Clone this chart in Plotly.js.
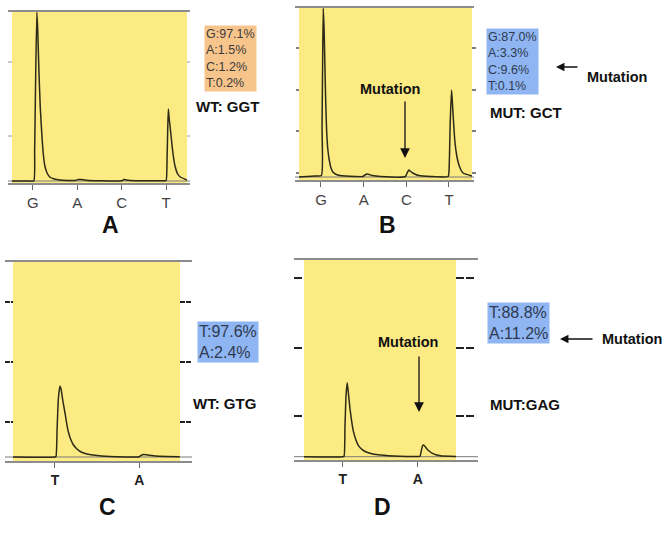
<!DOCTYPE html>
<html>
<head>
<meta charset="utf-8">
<script src="https://cdn.plot.ly/plotly-3.0.1.min.js"></script>
<style>html,body{margin:0;padding:0;background:#fff;}#chart{width:664px;height:533px;}</style>
</head>
<body>
<div id="chart"></div>
<script>
// ---------- DATA ----------
// Dispensation orders (x tick labels)
var basesA = ['G', 'A', 'C', 'T'];
var basesB = ['G', 'A', 'C', 'T'];
var basesC = ['T', 'A'];
var basesD = ['T', 'A'];

// Allele percentages shown in the boxes
var pctLabelsA = ['G', 'A', 'C', 'T'];
var pctA = [97.1, 1.5, 1.2, 0.2];
var pctLabelsB = ['G', 'A', 'C', 'T'];
var pctB = [87.0, 3.3, 9.6, 0.1];
var pctLabelsC = ['T', 'A'];
var pctC = [97.6, 2.4];
var pctLabelsD = ['T', 'A'];
var pctD = [88.8, 11.2];

// Genotype labels
var genoA = 'WT: GGT';
var genoB = 'MUT: GCT';
var genoC = 'WT: GTG';
var genoD = 'MUT:GAG';

// Pyrogram traces (x = dispensation position, y = light signal, arbitrary units)
var traceAx = [0.53, 0.9, 1.02, 1.04, 1.06, 1.09, 1.11, 1.135, 1.165, 1.2, 1.235, 1.27, 1.32, 1.38, 1.48, 1.61, 1.95, 2.02, 2.08, 2.2, 2.5, 3.0, 3.05, 3.15, 3.4, 3.95, 4.0, 4.02, 4.035, 4.05, 4.07, 4.1, 4.13, 4.165, 4.2, 4.26, 4.32, 4.47];
var traceAy = [0, 0, 0, 30, 95, 169, 150, 112, 75, 48, 27, 15, 8, 4, 2, 1, 0.5, 1.5, 1.5, 0.8, 0.3, 0.3, 1.5, 0.8, 0.3, 0.3, 0.5, 20, 50, 72, 62, 50, 37, 24, 15, 7, 4, 1];

var traceBx = [0.485, 0.86, 1.01, 1.025, 1.04, 1.054, 1.075, 1.094, 1.113, 1.133, 1.16, 1.194, 1.235, 1.28, 1.36, 1.445, 1.8, 1.98, 2.03, 2.085, 2.2, 2.4, 2.98, 3.02, 3.06, 3.1, 3.15, 3.22, 3.29, 3.57, 3.98, 4.0, 4.03, 4.06, 4.08, 4.1, 4.14, 4.18, 4.22, 4.27, 4.33, 4.54];
var traceBy = [0, 1, 1.5, 50, 120, 169, 145, 108, 72, 46, 28, 17, 9, 5, 2.5, 1.5, 0.5, 0.5, 2, 3, 1.5, 0.5, 0.5, 4, 7, 5.5, 4, 2.5, 1.5, 0.5, 0.5, 5, 55, 87, 75, 60, 35, 22, 14, 8, 4, 1];

var traceCx = [0.50, 1.0, 1.012, 1.025, 1.04, 1.059, 1.072, 1.09, 1.119, 1.14, 1.156, 1.185, 1.216, 1.26, 1.31, 1.38, 1.45, 1.65, 2.0, 2.02, 2.05, 2.1, 2.2, 2.48];
var traceCy = [0, 0, 0.5, 28, 58, 71, 68, 58, 44, 33, 26, 18, 12.5, 8, 5, 3, 2, 0.5, 0.3, 1.5, 2.5, 2, 1, 0.3];

var traceDx = [0.484, 1.0, 1.018, 1.03, 1.045, 1.06, 1.075, 1.097, 1.12, 1.14, 1.175, 1.21, 1.26, 1.32, 1.4, 1.5, 1.76, 2.0, 2.03, 2.045, 2.06, 2.075, 2.095, 2.12, 2.155, 2.19, 2.24, 2.3, 2.51];
var traceDy = [0, 0, 0.5, 30, 62, 74, 64, 48, 35, 26, 17, 11, 7, 4.5, 2.8, 1.7, 0.5, 0.3, 0.5, 5, 10, 11.7, 10.5, 8, 5.5, 3.5, 2, 1, 0.3];

// Y tick positions (signal units)
var yTicksA = [45, 119];
var yTicksB = [4, 46, 87, 129];
var yTicksC = [35, 95, 155];
var yTicksD = [40.7, 108.7, 178.7];

// ---------- LAYOUT ----------
var W = 664, H = 533;
var YELLOW = '#FCEB82';
var GRAY = '#8c8c8c';
var FONT = 'Liberation Sans, Arial, Helvetica, sans-serif';
function px(x) { return x / W; }
function py(y) { return 1 - y / H; }

var panels = [
  {id: '', xs: traceAx, ys: traceAy, bases: basesA, xr: [0.53, 4.47], yr: [-3, 170],
   dom: [12, 187, 11, 184], ext: [4, 3], ticks: yTicksA, tl: [4, 3], tcol: '#9a9a9a', tw: 1, dash: 'solid',
   tickfont: {size: 15, color: '#444'}},
  {id: '2', xs: traceBx, ys: traceBy, bases: basesB, xr: [0.485, 4.54], yr: [-4, 170],
   dom: [299, 472, 7, 181], ext: [4, 2], ticks: yTicksB, tl: [3, 4], tcol: '#555', tw: 1.5, dash: 'solid',
   tickfont: {size: 15, color: '#444'}},
  {id: '3', xs: traceCx, ys: traceCy, bases: basesC, xr: [0.502, 2.483], yr: [-5, 196],
   dom: [13, 180, 261, 462], ext: [8, 12], ticks: yTicksC, tl: [8, 11], tcol: '#222', tw: 2, dash: '5px,1px',
   tickfont: {size: 14, color: '#222', weight: 'bold'}},
  {id: '4', xs: traceDx, ys: traceDy, bases: basesD, xr: [0.484, 2.51], yr: [-4.3, 197.7],
   dom: [304, 456, 259, 461], ext: [10, 22], ticks: yTicksD, tl: [10, 20], tcol: '#222', tw: 2, dash: '8px,2px',
   tickfont: {size: 14, color: '#222', weight: 'bold'}}
];

var data = [];
var layout = {
  width: W, height: H,
  margin: {l: 0, r: 0, t: 0, b: 0},
  paper_bgcolor: '#ffffff',
  showlegend: false,
  font: {family: FONT},
  shapes: [],
  annotations: []
};

panels.forEach(function (p) {
  var xa = 'x' + p.id, ya = 'y' + p.id;
  var xk = 'xaxis' + p.id, yk = 'yaxis' + p.id;
  var wpx = p.dom[1] - p.dom[0];
  data.push({
    x: p.xs, y: p.ys, xaxis: xa, yaxis: ya, type: 'scatter', mode: 'lines',
    line: {color: '#2e2a18', width: 1.5, shape: 'spline', smoothing: 0.5}, hoverinfo: 'skip'
  });
  layout[xk] = {
    domain: [px(p.dom[0]), px(p.dom[1])], range: p.xr, anchor: ya,
    tickvals: p.bases.map(function (b, i) { return i + 1; }), ticktext: p.bases,
    ticks: 'outside', ticklen: 5, tickcolor: '#666', tickwidth: 1,
    showgrid: false, zeroline: false, showline: false,
    tickfont: {family: FONT, size: p.tickfont.size, color: p.tickfont.color, weight: p.tickfont.weight || 'normal'},
    fixedrange: true
  };
  layout[yk] = {
    domain: [py(p.dom[3]), py(p.dom[2])], range: p.yr, anchor: xa,
    showticklabels: false, ticks: '', showgrid: false, zeroline: false, showline: false,
    fixedrange: true
  };
  // yellow plotting area
  layout.shapes.push({type: 'rect', layer: 'below', xref: xa + ' domain', yref: ya + ' domain',
    x0: 0, x1: 1, y0: 0, y1: 1, fillcolor: YELLOW, line: {width: 0}});
  var e0 = -p.ext[0] / wpx, e1 = 1 + p.ext[1] / wpx;
  // top and bottom frame lines
  [1, 0].forEach(function (yv) {
    layout.shapes.push({type: 'line', xref: xa + ' domain', yref: ya + ' domain',
      x0: e0, x1: e1, y0: yv, y1: yv, line: {color: GRAY, width: 2}});
  });
  // baseline line
  layout.shapes.push({type: 'line', layer: 'below', xref: xa + ' domain', yref: ya,
    x0: e0, x1: e1, y0: 0, y1: 0, line: {color: '#7a7a7a', width: 1}});
  // y ticks on both sides
  p.ticks.forEach(function (tv) {
    layout.shapes.push({type: 'line', xref: xa + ' domain', yref: ya,
      x0: -p.tl[0] / wpx, x1: 0, y0: tv, y1: tv, line: {color: p.tcol, width: p.tw, dash: p.dash}});
    layout.shapes.push({type: 'line', xref: xa + ' domain', yref: ya,
      x0: 1, x1: 1 + p.tl[1] / wpx, y0: tv, y1: tv, line: {color: p.tcol, width: p.tw, dash: p.dash}});
  });
});

function boxText(labels, vals) {
  return labels.map(function (l, i) { return l + ':' + vals[i].toFixed(1) + '%'; }).join('<br>');
}
function ann(o) { layout.annotations.push(o); }

// percentage boxes
ann({xref: 'paper', yref: 'paper', x: px(204), y: py(25), xanchor: 'left', yanchor: 'top',
  text: boxText(pctLabelsA, pctA), showarrow: false, align: 'left', bgcolor: '#F7C58C',
  borderpad: 1, font: {family: FONT, size: 12.5, color: '#3a3a3a'}});
ann({xref: 'paper', yref: 'paper', x: px(486), y: py(28), xanchor: 'left', yanchor: 'top',
  text: boxText(pctLabelsB, pctB), showarrow: false, align: 'left', bgcolor: '#8FB5F2',
  borderpad: 1, font: {family: FONT, size: 12.5, color: '#2e3a50'}});
ann({xref: 'paper', yref: 'paper', x: px(197), y: py(321), xanchor: 'left', yanchor: 'top',
  text: boxText(pctLabelsC, pctC), showarrow: false, align: 'left', bgcolor: '#8FB5F2',
  borderpad: 1, font: {family: FONT, size: 16, color: '#2e3a50'}});
ann({xref: 'paper', yref: 'paper', x: px(487), y: py(302), xanchor: 'left', yanchor: 'top',
  text: boxText(pctLabelsD, pctD), showarrow: false, align: 'left', bgcolor: '#8FB5F2',
  borderpad: 1, font: {family: FONT, size: 16, color: '#2e3a50'}});

// genotype labels
var bold = {family: FONT, size: 15, color: '#111', weight: 'bold'};
ann({xref: 'paper', yref: 'paper', x: px(194), y: py(106), xanchor: 'left', yanchor: 'middle', text: genoA, showarrow: false, font: bold});
ann({xref: 'paper', yref: 'paper', x: px(488), y: py(112), xanchor: 'left', yanchor: 'middle', text: genoB, showarrow: false, font: bold});
ann({xref: 'paper', yref: 'paper', x: px(191), y: py(403), xanchor: 'left', yanchor: 'middle', text: genoC, showarrow: false, font: bold});
ann({xref: 'paper', yref: 'paper', x: px(488), y: py(404), xanchor: 'left', yanchor: 'middle', text: genoD, showarrow: false, font: bold});

// panel letters
var big = {family: FONT, size: 23, color: '#111', weight: 'bold'};
ann({xref: 'paper', yref: 'paper', x: px(100), y: py(225), text: 'A', showarrow: false, font: big});
ann({xref: 'paper', yref: 'paper', x: px(387), y: py(225), text: 'B', showarrow: false, font: big});
ann({xref: 'paper', yref: 'paper', x: px(97), y: py(522), text: 'C', showarrow: false, font: big});
ann({xref: 'paper', yref: 'paper', x: px(383), y: py(522), text: 'D', showarrow: false, font: big});

// Mutation labels and arrows
var mut = {family: FONT, size: 14.5, color: '#111', weight: 'bold'};
ann({xref: 'paper', yref: 'paper', x: px(390), y: py(79), text: 'Mutation', showarrow: false, font: mut});
ann({xref: 'paper', yref: 'paper', x: px(405), y: py(158), text: '', showarrow: true, ax: 0, ay: -58,
  arrowhead: 2, arrowsize: 1.5, arrowwidth: 1.3, arrowcolor: '#111'});
ann({xref: 'paper', yref: 'paper', x: px(585), y: py(67), xanchor: 'left', text: 'Mutation', showarrow: false, font: mut});
ann({xref: 'paper', yref: 'paper', x: px(556), y: py(67), text: '', showarrow: true, ax: 23, ay: 0,
  arrowhead: 2, arrowsize: 1.3, arrowwidth: 1.3, arrowcolor: '#111'});

ann({xref: 'paper', yref: 'paper', x: px(408), y: py(342), text: 'Mutation', showarrow: false, font: mut});
ann({xref: 'paper', yref: 'paper', x: px(419), y: py(412), text: '', showarrow: true, ax: 0, ay: -57,
  arrowhead: 2, arrowsize: 1.5, arrowwidth: 1.3, arrowcolor: '#111'});
ann({xref: 'paper', yref: 'paper', x: px(600), y: py(339), xanchor: 'left', text: 'Mutation', showarrow: false, font: mut});
ann({xref: 'paper', yref: 'paper', x: px(560), y: py(339), text: '', showarrow: true, ax: 34, ay: 0,
  arrowhead: 2, arrowsize: 1.3, arrowwidth: 1.3, arrowcolor: '#111'});

Plotly.newPlot('chart', data, layout, {displayModeBar: false, staticPlot: true});
</script>
</body>
</html>
